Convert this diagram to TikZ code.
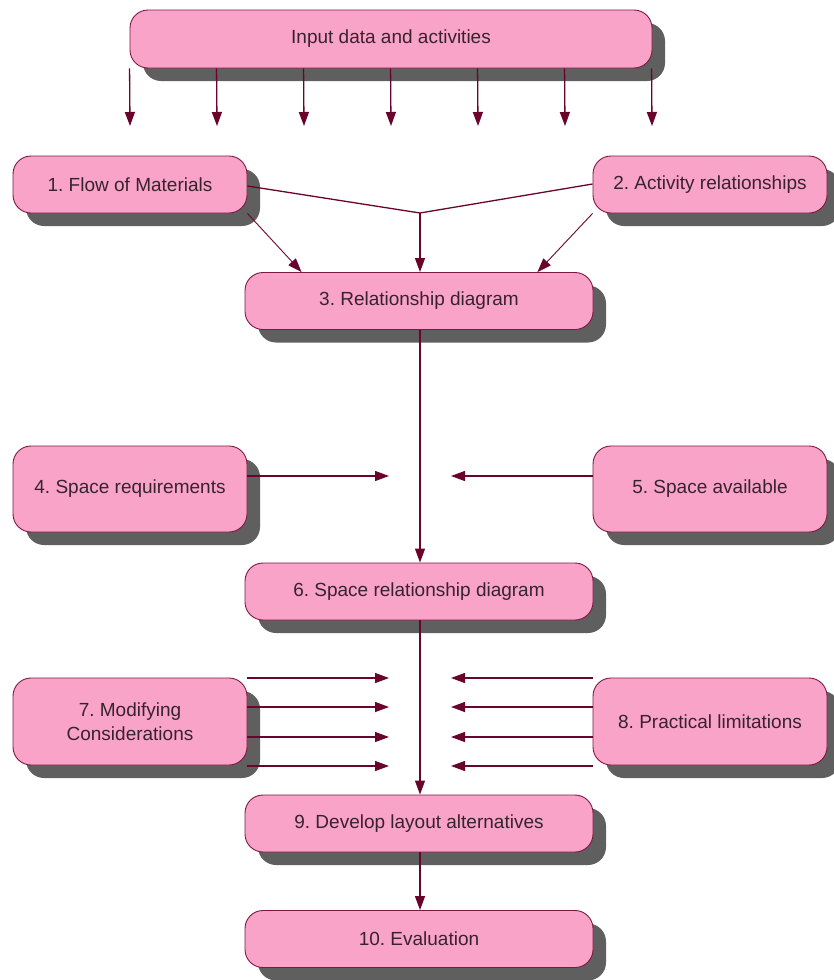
\documentclass[tikz,border=0pt]{standalone}
\usepackage{fontspec}
\setmainfont{Liberation Sans}
\usetikzlibrary{arrows.meta,shadows,calc}
\frenchspacing

\definecolor{boxpink}{RGB}{249,163,201}
\definecolor{boxedge}{RGB}{125,25,65}
\definecolor{linecol}{RGB}{105,5,45}
\definecolor{shadowgray}{RGB}{95,95,95}
\definecolor{textcol}{RGB}{55,35,45}

\tikzset{
  box/.style={draw=boxedge, line width=0.9pt, fill=boxpink,
    rounded corners=18pt, text=textcol, inner sep=0pt, align=center,
    font=\fontsize{19}{24}\selectfont,
    drop shadow={shadow xshift=13pt, shadow yshift=-13pt,
      fill=shadowgray, opacity=1, draw=none}},
  sidebox/.style={box, minimum width=234pt},
  midbox/.style={box, minimum width=348pt, minimum height=57pt},
  flow/.style={draw=linecol, line width=1.3pt,
    -{Triangle[length=14pt,width=10pt]}},
  mergeline/.style={draw=linecol, line width=1.3pt},
}

\begin{document}
\begin{tikzpicture}[x=1pt,y=-1pt]
\useasboundingbox (0,0) rectangle (833,980);

% boxes
\node[box, minimum width=522pt, minimum height=58pt] (top) at (391,39) {Input data and activities};
\node[sidebox, minimum height=57pt] (b1) at (130,184.5) {1. Flow of Materials};
\node[sidebox, minimum height=57pt] (b2) at (710,184.5) {2. Activity relationships};
\node[midbox] (b3) at (419,301) {3. Relationship diagram};
\node[sidebox, minimum height=86pt] (b4) at (130,489) {4. Space requirements};
\node[sidebox, minimum height=86pt] (b5) at (710,489) {5. Space available};
\node[midbox] (b6) at (419,591.5) {6. Space relationship diagram};
\node[sidebox, minimum height=87pt] (b7) at (130,721.5) {7. Modifying\\Considerations};
\node[sidebox, minimum height=87pt] (b8) at (710,721.5) {8. Practical limitations};
\node[midbox] (b9) at (419,823.5) {9. Develop layout alternatives};
\node[midbox] (b10) at (419,939) {10. Evaluation};

% inputs fanning out of the top box
\foreach \i in {0,...,6} {
  \coordinate (tip\i) at (130+87*\i,126);
  \draw[flow] ($(top.south west)+(87*\i,0)$) -- (tip\i);
}

% flows 1 and 2 merge into the relationship diagram
\coordinate (merge) at (420,213);
\draw[mergeline] ($(b1.east)+(0,1.5)$) -- (merge);
\draw[mergeline] ($(b2.west)+(0,-0.5)$) -- (merge);
\draw[flow] (merge) -- (b3.north -| merge);
\draw[flow, line width=0.9pt] (b1.south east) -- ($(b3.north west)+(57,0)$);
\draw[flow, line width=0.9pt] (b2.south west) -- ($(b3.north east)+(-56,0)$);

% main spine
\draw[flow] (b3.south -| merge) -- (b6.north -| merge);
\draw[flow] (b6.south -| merge) -- (b9.north -| merge);
\draw[flow] (b9.south -| merge) -- (b10.north -| merge);

% space requirements and space available
\coordinate (t4) at (389,476);
\coordinate (t5) at (451,476);
\draw[flow] (b4.east |- t4) -- (t4);
\draw[flow] (b5.west |- t5) -- (t5);

% modifying considerations and practical limitations
\foreach \y [count=\k] in {678,707,737,766} {
  \coordinate (l\k) at (389,\y);
  \coordinate (r\k) at (451,\y);
  \draw[flow] (b7.east |- l\k) -- (l\k);
  \draw[flow] (b8.west |- r\k) -- (r\k);
}
\end{tikzpicture}
\end{document}
